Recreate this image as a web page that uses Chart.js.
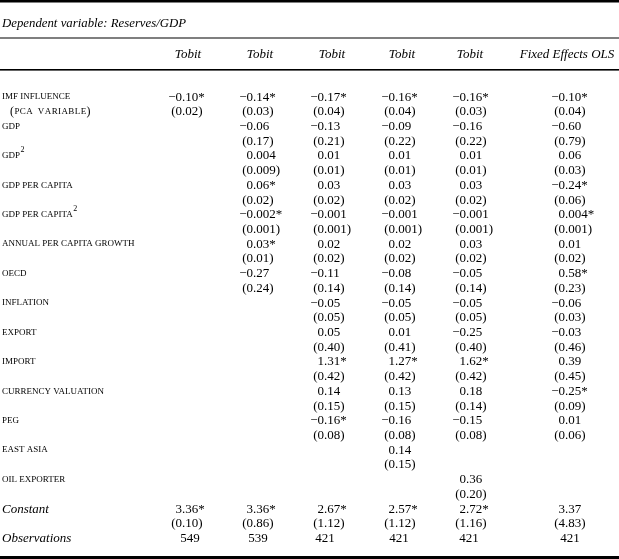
<!DOCTYPE html>
<html>
<head>
<meta charset="utf-8">
<script src="https://cdn.jsdelivr.net/npm/chart.js@4.4.1/dist/chart.umd.min.js"></script>
<style>
  html, body { margin: 0; padding: 0; background: #ffffff; }
  #wrap { width: 619px; height: 559px; }
</style>
</head>
<body>
<div id="wrap"><canvas id="c" width="619" height="559"></canvas></div>
<script>
// ---------------- DATA ----------------
const dependentVariable = 'Dependent variable: Reserves/GDP';
const models = ['Tobit', 'Tobit', 'Tobit', 'Tobit', 'Tobit', 'Fixed Effects OLS'];

const variables = ['IMF INFLUENCE', 'GDP', 'GDP', 'GDP PER CAPITA', 'GDP PER CAPITA',
  'ANNUAL PER CAPITA GROWTH', 'OECD', 'INFLATION', 'EXPORT', 'IMPORT',
  'CURRENCY VALUATION', 'PEG', 'EAST ASIA', 'OIL EXPORTER', 'Constant'];
const variableSuperscripts = ['', '', '2', '', '2', '', '', '', '', '', '', '', '', '', ''];
const variableSubLabels = ['(PCA VARIABLE)', '', '', '', '', '', '', '', '', '', '', '', '', '', ''];
const observationsLabel = 'Observations';

// coefficients (string as printed, * = significant) and standard errors, one array per model
const coef1 = ['−0.10*', null, null, null, null, null, null, null, null, null, null, null, null, null, '3.36*'];
const se1   = ['0.02',   null, null, null, null, null, null, null, null, null, null, null, null, null, '0.10'];
const coef2 = ['−0.14*', '−0.06', '0.004', '0.06*', '−0.002*', '0.03*', '−0.27', null, null, null, null, null, null, null, '3.36*'];
const se2   = ['0.03',   '0.17',  '0.009', '0.02',  '0.001',   '0.01',  '0.24',  null, null, null, null, null, null, null, '0.86'];
const coef3 = ['−0.17*', '−0.13', '0.01', '0.03', '−0.001', '0.02', '−0.11', '−0.05', '0.05', '1.31*', '0.14', '−0.16*', null, null, '2.67*'];
const se3   = ['0.04',   '0.21',  '0.01', '0.02', '0.001',  '0.02', '0.14',  '0.05',  '0.40', '0.42',  '0.15', '0.08',   null, null, '1.12'];
const coef4 = ['−0.16*', '−0.09', '0.01', '0.03', '−0.001', '0.02', '−0.08', '−0.05', '0.01', '1.27*', '0.13', '−0.16', '0.14', null, '2.57*'];
const se4   = ['0.04',   '0.22',  '0.01', '0.02', '0.001',  '0.02', '0.14',  '0.05',  '0.41', '0.42',  '0.15', '0.08',  '0.15', null, '1.12'];
const coef5 = ['−0.16*', '−0.16', '0.01', '0.03', '−0.001', '0.03', '−0.05', '−0.05', '−0.25', '1.62*', '0.18', '−0.15', null, '0.36', '2.72*'];
const se5   = ['0.03',   '0.22',  '0.01', '0.02', '0.001',  '0.02', '0.14',  '0.05',  '0.40',  '0.42',  '0.14', '0.08',  null, '0.20', '1.16'];
const coef6 = ['−0.10*', '−0.60', '0.06', '−0.24*', '0.004*', '0.01', '0.58*', '−0.06', '−0.03', '0.39', '−0.25*', '0.01', null, null, '3.37'];
const se6   = ['0.04',   '0.79',  '0.03', '0.06',   '0.001',  '0.02', '0.23',  '0.03',  '0.46',  '0.45', '0.09',   '0.06', null, null, '4.83'];
const observations = [549, 539, 421, 421, 421, 421];

// ---------------- BUILD CELLS ----------------
const coefs = [coef1, coef2, coef3, coef4, coef5, coef6];
const ses = [se1, se2, se3, se4, se5, se6];
const cells = [];
coefs.forEach((col, j) => {
  col.forEach((v, k) => {
    if (v !== null) {
      cells.push({ x: j, y: 2 * k, text: v, kind: 'num' });
      cells.push({ x: j, y: 2 * k + 1, text: '(' + ses[j][k] + ')', kind: 'num' });
    }
  });
  cells.push({ x: j, y: 2 * variables.length, text: String(observations[j]), kind: 'int' });
});
const lineCount = 2 * variables.length; // observations line index

const SERIF = '"Liberation Serif", "Times New Roman", serif';

const tablePlugin = {
  id: 'tablePlugin',
  beforeDraw(chart) {
    const ctx = chart.ctx;
    ctx.save();
    ctx.fillStyle = '#ffffff';
    ctx.fillRect(0, 0, chart.width, chart.height);
    ctx.restore();
  },
  afterDatasetsDraw(chart, args, opts) {
    const ctx = chart.ctx;
    const xs = chart.scales.x, ys = chart.scales.y;
    const area = chart.chartArea;
    const W = chart.width, H = chart.height;
    const nudge = opts.columnNudge;
    ctx.save();
    ctx.fillStyle = '#000';
    ctx.strokeStyle = '#000';

    // rules
    ctx.fillRect(0, 0, W, 2.5);
    ctx.fillRect(0, area.top - 58.5, W, 1);
    ctx.fillRect(0, area.top - 27, W, 1.6);
    ctx.fillRect(0, H - 3, W, 3);

    // title
    ctx.textBaseline = 'alphabetic';
    ctx.textAlign = 'left';
    ctx.font = 'italic 12.8px ' + SERIF;
    ctx.fillText(dependentVariable, 2, area.top - 69);

    // headers
    ctx.textAlign = 'center';
    ctx.font = 'italic 13px ' + SERIF;
    models.forEach((m, j) => {
      const x = xs.getPixelForValue(j) + nudge[j] + opts.headerShift[j];
      ctx.fillText(m, x, area.top - 38);
    });

    // row labels
    const capFont = '9px ' + SERIF;
    variables.forEach((name, k) => {
      const y = ys.getPixelForValue(2 * k);
      ctx.textAlign = 'left';
      if (name === 'Constant') {
        ctx.font = 'italic 13px ' + SERIF;
        ctx.fillText(name, 2, y + 4.5);
      } else {
        ctx.font = capFont;
        ctx.fillText(name, 2, y + 3.2);
        if (variableSuperscripts[k]) {
          const w = ctx.measureText(name).width;
          ctx.font = '8px ' + SERIF;
          ctx.fillText(variableSuperscripts[k], 2 + w + 0.5, y - 2.5);
        }
      }
      if (variableSubLabels[k]) {
        const y2 = ys.getPixelForValue(2 * k + 1);
        const s = variableSubLabels[k];
        let x = 10;
        for (const ch of s) {
          if (ch === '(' || ch === ')') {
            ctx.font = '12px ' + SERIF;
            ctx.fillText(ch, x, y2 + 4);
          } else {
            ctx.font = capFont;
            ctx.fillText(ch, x, y2 + 3.2);
          }
          x += ctx.measureText(ch).width + (ch === ' ' ? 2.5 : 0.4);
        }
      }
    });
    ctx.font = 'italic 13px ' + SERIF;
    ctx.textAlign = 'left';
    ctx.fillText(observationsLabel, 2, ys.getPixelForValue(lineCount) + 4.5);

    // cell values, decimal aligned
    ctx.font = '13px ' + SERIF;
    const meta = chart.getDatasetMeta(0);
    meta.data.forEach((pt, i) => {
      const c = cells[i];
      const dx = pt.x + nudge[c.x] + opts.decimalShift[c.x];
      const y = pt.y + 4.5;
      if (c.kind === 'int') {
        ctx.textAlign = 'center';
        ctx.fillText(c.text, dx + opts.intShift[c.x], y);
      } else {
        const idx = c.text.indexOf('.');
        const pre = c.text.slice(0, idx);
        const w = ctx.measureText(pre).width;
        ctx.textAlign = 'left';
        ctx.fillText(c.text, dx - w, y);
      }
    });
    ctx.restore();
  }
};

new Chart(document.getElementById('c'), {
  type: 'scatter',
  data: {
    labels: models.map((m, j) => j),
    datasets: [{
      data: cells.map(c => ({ x: c.x, y: c.y })),
      pointRadius: 0,
      pointHoverRadius: 0,
      showLine: false
    }]
  },
  options: {
    responsive: false,
    animation: false,
    events: [],
    layout: { padding: { left: 146.5, right: 46.5, top: 96, bottom: 21.5 } },
    scales: {
      x: { type: 'category', offset: true, display: false },
      y: { type: 'linear', reverse: true, min: 0, max: lineCount, display: false }
    },
    plugins: {
      legend: { display: false },
      tooltip: { enabled: false },
      tablePlugin: {
        columnNudge: [0, 0, 0, 0, 0, 28],
        headerShift: [6, 7, 8, 7, 4, 2],
        decimalShift: [0, 0, 0, 0, 0, 0],
        intShift: [8, 5, 1, 4, 3, 5]
      }
    }
  },
  plugins: [tablePlugin]
});
</script>
</body>
</html>
